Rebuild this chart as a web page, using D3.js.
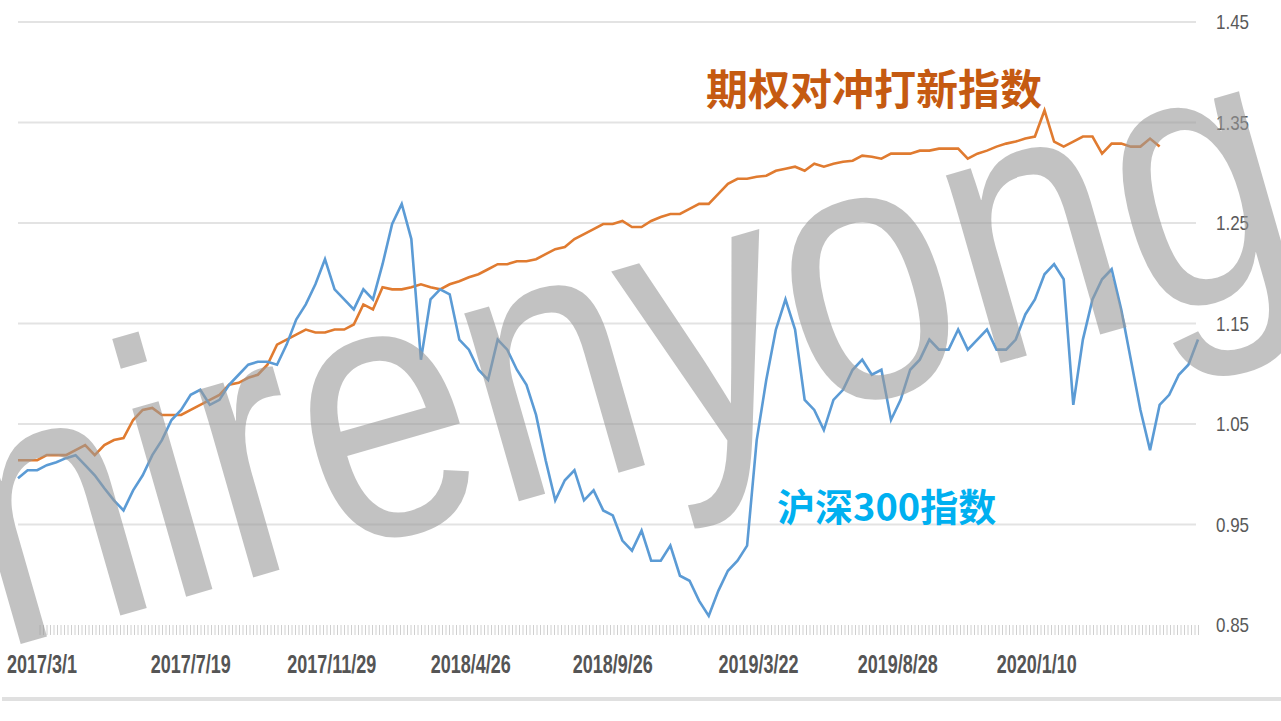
<!DOCTYPE html>
<html><head><meta charset="utf-8">
<script src="https://cdn.jsdelivr.net/npm/d3@7"></script>
<style>body{margin:0;background:#fff}svg{display:block}</style>
</head><body><svg id="c" width="1281" height="721"></svg>
<script>
// values, one point per ~10px step
var hs300 = [0.996,1.004,1.004,1.009,1.012,1.016,1.019,1.009,0.999,0.986,0.974,0.964,0.984,0.999,1.019,1.034,1.054,1.064,1.079,1.084,1.069,1.074,1.089,1.099,1.109,1.112,1.112,1.109,1.129,1.154,1.169,1.189,1.214,1.184,1.174,1.164,1.184,1.174,1.209,1.249,1.269,1.234,1.114,1.174,1.184,1.179,1.134,1.124,1.104,1.094,1.134,1.124,1.104,1.089,1.059,1.014,0.974,0.994,1.004,0.974,0.984,0.964,0.959,0.934,0.924,0.944,0.914,0.914,0.929,0.899,0.894,0.874,0.859,0.884,0.904,0.914,0.929,1.034,1.094,1.144,1.174,1.144,1.074,1.064,1.044,1.074,1.084,1.104,1.114,1.099,1.104,1.054,1.074,1.104,1.114,1.134,1.124,1.124,1.144,1.124,1.134,1.144,1.124,1.124,1.134,1.159,1.174,1.199,1.209,1.194,1.069,1.134,1.174,1.194,1.204,1.164,1.114,1.064,1.024,1.069,1.079,1.099,1.109,1.134];
var hedge = [1.014,1.014,1.014,1.019,1.019,1.019,1.024,1.029,1.019,1.029,1.034,1.036,1.054,1.064,1.066,1.059,1.059,1.059,1.064,1.069,1.074,1.079,1.089,1.091,1.096,1.099,1.109,1.129,1.134,1.139,1.144,1.141,1.141,1.144,1.144,1.149,1.169,1.164,1.186,1.184,1.184,1.186,1.189,1.186,1.184,1.189,1.192,1.196,1.199,1.204,1.209,1.209,1.212,1.212,1.214,1.219,1.224,1.226,1.234,1.239,1.244,1.249,1.249,1.252,1.246,1.246,1.252,1.256,1.259,1.259,1.264,1.269,1.269,1.279,1.289,1.294,1.294,1.296,1.297,1.302,1.304,1.306,1.302,1.309,1.306,1.309,1.311,1.312,1.317,1.316,1.314,1.319,1.319,1.319,1.322,1.322,1.324,1.324,1.324,1.314,1.319,1.322,1.326,1.329,1.331,1.334,1.336,1.362,1.331,1.326,1.331,1.336,1.336,1.319,1.329,1.329,1.326,1.326,1.334,1.326];
var xLabels = ["2017/3/1","2017/7/19","2017/11/29","2018/4/26","2018/9/26","2019/3/22","2019/8/28","2020/1/10"];
var xLabelIdx = [2.5,18,32.7,47.2,62,77.2,91.7,106.2];
var yTicks = [0.85,0.95,1.05,1.15,1.25,1.35,1.45];

var svg = d3.select("#c");
var x = d3.scaleLinear().domain([0, hs300.length - 1]).range([18, 1198]);
var y = d3.scaleLinear().domain([0.85, 1.45]).range([625, 22]);

svg.append("g").selectAll("line").data(yTicks.slice(1)).enter().append("line")
  .attr("x1", 18).attr("x2", 1196).attr("y1", d => y(d)).attr("y2", d => y(d))
  .attr("stroke", "#e3e3e3").attr("stroke-width", 2);
svg.append("g").selectAll("text").data(yTicks).enter().append("text")
  .attr("transform", d => "translate(1216," + (y(d) + 7) + ") scale(0.85,1)")
  .attr("font-family", "Liberation Sans").attr("font-size", 20)
  .attr("fill", "#595959").text(d => d.toFixed(2));

// dense tick band under plot
var band = d3.range(40, 1200, 3.5);
svg.append("g").selectAll("line").data(band).enter().append("line")
  .attr("x1", d => d).attr("x2", d => d).attr("y1", 625).attr("y2", 635)
  .attr("stroke", "#d0d0d0").attr("stroke-width", 1);

svg.append("g").selectAll("text").data(xLabels).enter().append("text")
  .attr("transform", (d, i) => "translate(" + x(xLabelIdx[i]) + ",673) scale(0.72,1)")
  .attr("text-anchor", "middle")
  .attr("font-family", "Liberation Sans").attr("font-weight", "bold")
  .attr("font-size", 25).attr("fill", "#555").text(d => d);
svg.append("line").attr("x1", 2).attr("x2", 1281).attr("y1", 699).attr("y2", 699)
  .attr("stroke", "#e0e0e0").attr("stroke-width", 4);

var line = d3.line().x((d, i) => x(i)).y(d => y(d));
svg.append("path").datum(hedge).attr("d", line).attr("fill", "none")
  .attr("stroke", "#e07b30").attr("stroke-width", 2.6);
svg.append("path").datum(hs300).attr("d", line).attr("fill", "none")
  .attr("stroke", "#5b9bd5").attr("stroke-width", 2.6);

svg.append("text").attr("x", 706).attr("y", 105).attr("font-family", "Noto Sans CJK SC")
  .attr("font-weight", "bold").attr("font-size", 42).attr("fill", "#c55a11").text("期权对冲打新指数");
svg.append("text").attr("x", 777).attr("y", 521).attr("font-family", "Noto Sans CJK SC")
  .attr("font-weight", "bold").attr("font-size", 38).attr("fill", "#00b0f0").text("沪深300指数");

// watermark
svg.append("text").attr("transform", "translate(0,650) rotate(-16) scale(0.84,1)")
  .attr("font-family", "Liberation Sans").attr("font-size", 370)
  .attr("fill", "#9a9a9a").attr("fill-opacity", 0.6).text("nirenyong");
</script></body></html>
